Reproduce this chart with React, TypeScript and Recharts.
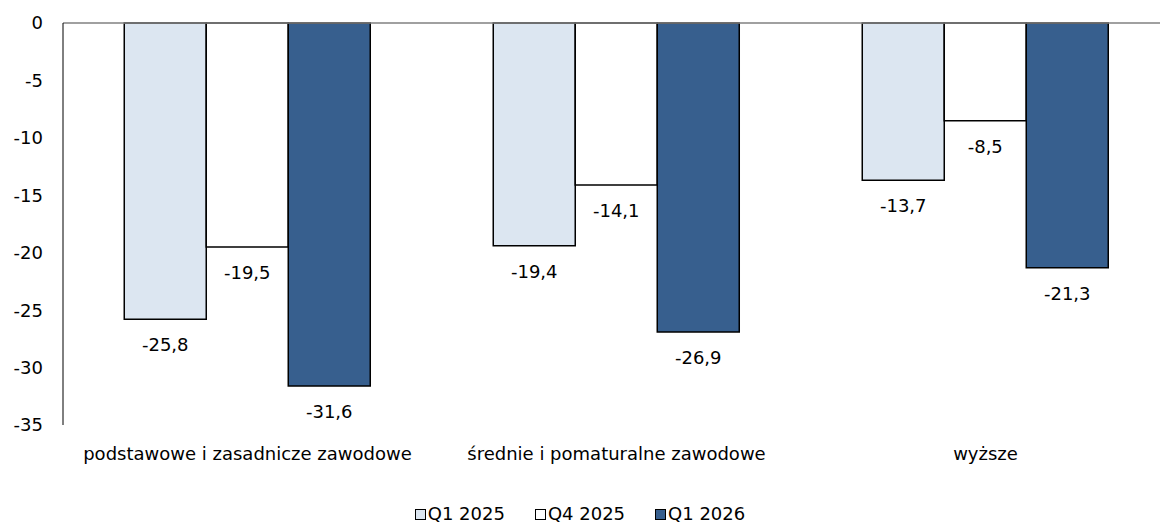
import React from "react";
import {
  BarChart, Bar, XAxis, YAxis, Legend, ReferenceLine, LabelList,
} from "recharts";

const categories = [
  "podstawowe i zasadnicze zawodowe",
  "średnie i pomaturalne zawodowe",
  "wyższe",
];
const q1_2025 = [-25.8, -19.4, -13.7];
const q4_2025 = [-19.5, -14.1, -8.5];
const q1_2026 = [-31.6, -26.9, -21.3];
const yTicks = [0, -5, -10, -15, -20, -25, -30, -35];

const seriesDefs = [
  { key: "q1_2025", name: "Q1 2025", fill: "#dce6f1" },
  { key: "q4_2025", name: "Q4 2025", fill: "#ffffff" },
  { key: "q1_2026", name: "Q1 2026", fill: "#375f8e" },
];

const data = categories.map((c, i) => ({
  name: c,
  q1_2025: q1_2025[i],
  q4_2025: q4_2025[i],
  q1_2026: q1_2026[i],
}));

const FONT = "DejaVu Sans, Verdana, sans-serif";
const FS = 18;
const fmt = (v: number) => v.toFixed(1).replace(".", ",");

// value sits under the end of the (negative) bar
const BelowLabel = (props: any) => {
  const { x, y, width, height, value } = props;
  const bottom = Math.max(y, y + height);
  return (
    <text x={x + width / 2} y={bottom + 27} textAnchor="middle" dominantBaseline="middle"
      fontSize={FS} fontFamily={FONT} fill="#000">
      {fmt(value)}
    </text>
  );
};

const LegendBox = () => (
  <div style={{ display: "flex", justifyContent: "center", gap: 30, fontFamily: FONT, fontSize: FS, color: "#000", lineHeight: "20px" }}>
    {seriesDefs.map((s) => (
      <span key={s.key} style={{ display: "flex", alignItems: "center", gap: 2 }}>
        <span style={{ width: 9, height: 9, border: "1.5px solid #000", background: s.fill, display: "inline-block" }} />
        {s.name}
      </span>
    ))}
  </div>
);

export default function App() {
  return (
    <div style={{ position: "fixed", top: 0, left: 0, width: 1160, height: 527, overflow: "hidden", background: "#fff" }}>
      <BarChart width={1170} height={527} data={data}
        margin={{ top: 23, right: 0, left: 0, bottom: 48 }}
        barCategoryGap="16.6%" barGap={0}>
        <XAxis dataKey="name" axisLine={false} tickLine={false} height={30} tickMargin={16}
          tick={{ fill: "#000", fontSize: FS, fontFamily: FONT }} interval={0} />
        <YAxis domain={[-35, 0]} ticks={yTicks} width={63} tickSize={0} tickMargin={20}
          axisLine={{ stroke: "#000", strokeWidth: 1 }} tickLine={false}
          tick={{ fill: "#000", fontSize: FS, fontFamily: FONT }} />
        <ReferenceLine y={0} stroke="#808080" strokeWidth={1.5} />
        {seriesDefs.map((s) => (
          <Bar key={s.key} dataKey={s.key} name={s.name} fill={s.fill}
            stroke="#000" strokeWidth={1.5} isAnimationActive={false}>
            <LabelList dataKey={s.key} content={<BelowLabel />} />
          </Bar>
        ))}
        <Legend verticalAlign="bottom" content={<LegendBox />}
          wrapperStyle={{ top: 504, bottom: "auto", left: 0, width: 1160, height: 24 }} />
      </BarChart>
    </div>
  );
}
